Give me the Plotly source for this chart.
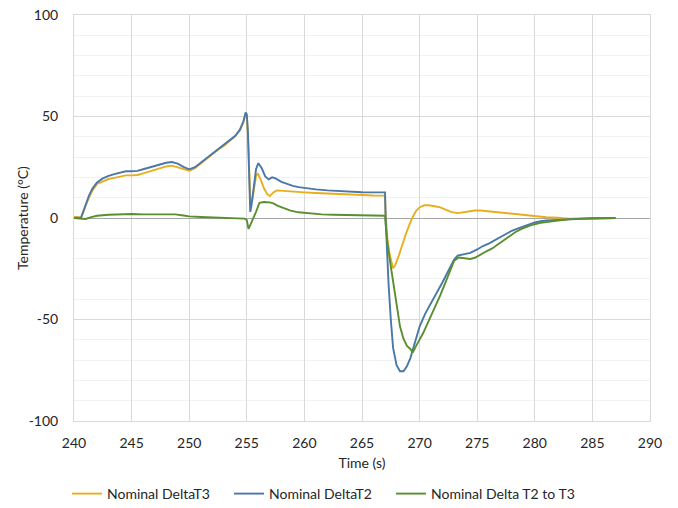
import plotly.graph_objects as go

# Nominal DeltaT3 (yellow)
t3_time = [240.0, 240.6, 240.8, 241.0, 241.3, 241.6, 242.0, 242.5, 243.0, 243.5, 244.0, 244.5, 245.0, 245.5,
           246.0, 246.5, 247.0, 247.5, 248.0, 248.5, 249.0, 249.5, 250.0, 250.5, 251.0, 251.5, 252.0, 252.5,
           253.0, 253.5, 254.0, 254.4, 254.7, 254.9, 255.0, 255.1, 255.2, 255.3, 255.45, 255.6, 255.8, 255.95,
           256.2, 256.5, 256.8, 257.0, 257.3, 257.6, 258.0, 259, 260, 261, 262, 263, 264, 265, 266, 267.0,
           267.05, 267.2, 267.4, 267.7, 267.9, 268.2, 268.5, 268.8, 269.1, 269.4, 269.7, 270.0, 270.4, 270.8,
           271.3, 271.8, 272.3, 272.8, 273.3, 273.8, 274.3, 274.8, 275.3, 275.8, 276.3, 276.8, 277.5, 278.0,
           278.5, 279, 280, 281, 282, 283, 284, 285, 286, 287]
t3_vals = [0.5, 0.3, 2.5, 6, 10, 13.5, 16.8, 18.2, 19.2, 19.8, 20.5, 21.0, 21.0, 21.2,
           22.0, 22.8, 23.6, 24.5, 25.4, 25.8, 25.0, 24.0, 23.3, 24.5, 26.8, 29.2, 31.5, 33.6,
           35.5, 37.8, 40.3, 43.2, 47, 51.5, 50.5, 41, 22, 9, 8, 14, 20.5, 22,
           19, 14.5, 11.5, 10.8, 12.6, 13.6, 13.4, 13.0, 12.6, 12.3, 12.0, 11.8, 11.6, 11.3, 11.1, 11.0,
           2, -10, -18, -24.8, -23, -18.5, -13, -8, -3.5, 0.5, 3.5, 5.2, 6.3, 6.3,
           5.8, 5.2, 4.0, 2.9, 2.4, 2.8, 3.3, 3.7, 3.7, 3.4, 3.1, 2.6, 2.3, 1.9,
           1.6, 1.3, 0.8, 0.4, 0.1, -0.3, -0.2, 0, -0.2, 0]

# Nominal DeltaT2 (blue)
t2_time = [240.0, 240.3, 240.6, 240.8, 241.0, 241.3, 241.6, 242.0, 242.5, 243.0, 243.5, 244.0, 244.5, 245.0,
           245.5, 246.0, 246.5, 247.0, 247.5, 248.0, 248.5, 249.0, 249.5, 250.0, 250.5, 251.0, 251.5, 252.0,
           252.5, 253.0, 253.5, 254.0, 254.4, 254.7, 254.9, 255.0, 255.1, 255.2, 255.3, 255.4, 255.6, 255.8,
           256.0, 256.3, 256.6, 256.9, 257.2, 257.5, 258.0, 258.5, 259.0, 259.5, 260.0, 261, 262, 263, 264,
           265, 266, 267.0, 267.05, 267.15, 267.3, 267.5, 267.7, 268.0, 268.3, 268.6, 268.9, 269.2, 269.5,
           269.8, 270.0, 270.5, 271.0, 271.5, 272.0, 272.5, 273.0, 273.3, 273.8, 274.4, 275.0, 275.5, 276.0,
           276.5, 277.0, 277.5, 278.0, 278.5, 279.0, 279.5, 280.0, 280.5, 281, 282, 283, 284, 285, 286, 287]
t2_vals = [0, 0.2, 0, 3, 7, 11, 14.5, 17.5, 19.5, 20.8, 21.6, 22.3, 23.0, 23.0,
           23.2, 24.0, 24.8, 25.5, 26.3, 27.2, 27.6, 26.8, 25.2, 24.0, 25.0, 27.2, 29.5, 31.8,
           33.8, 35.8, 38.0, 40.5, 43.5, 47.5, 52.0, 51.0, 42, 20, 3.0, 6, 16, 24,
           27.0, 24.5, 20.5, 19.0, 20.0, 19.5, 17.8, 16.6, 15.8, 15.2, 14.8, 14.1, 13.6, 13.2, 12.9,
           12.7, 12.6, 12.6, 0, -15, -32, -50, -64, -72.5, -75.5, -75.5, -73, -69, -63,
           -57, -53.5, -47, -42, -37, -31.5, -26, -20.5, -18.5, -17.8, -17.2, -15.5, -13.8, -12.6,
           -11, -9.3, -7.8, -6.3, -5.2, -4.1, -3.0, -2.2, -1.6, -1.2, -0.9, -0.5, -0.3, -0.1, -0.2, 0]

# Nominal Delta T2 to T3 (green)
d23_time = [240, 240.5, 241, 241.5, 242, 243, 244, 245, 246, 247, 248, 248.8, 249.5, 250, 251, 252, 253,
            254, 254.8, 255.0, 255.15, 255.3, 255.5, 255.8, 256.1, 256.5, 257.0, 257.3, 257.7, 258.2, 258.8,
            259.5, 260.5, 261.5, 262.5, 263.5, 264.5, 265.5, 267.0, 267.05, 267.2, 267.45, 267.7, 268.0,
            268.3, 268.6, 268.9, 269.2, 269.4, 269.7, 270.0, 270.3, 270.8, 271.3, 271.8, 272.3, 272.7, 273.0,
            273.4, 273.9, 274.4, 274.8, 275.3, 275.8, 276.3, 276.8, 277.3, 277.8, 278.3, 278.8, 279.3, 279.8,
            280.5, 281, 282, 283, 284, 285, 286, 287]
d23_vals = [0, -0.3, -0.5, 0.4, 1.1, 1.6, 1.9, 2.0, 1.8, 1.7, 1.9, 1.8, 1.2, 0.8, 0.5, 0.3, 0.2,
            0, -0.3, -1, -5.4, -3.5, -1, 3, 7.5, 7.9, 7.7, 7.2, 6, 4.8, 3.6,
            2.8, 2.2, 1.8, 1.6, 1.5, 1.3, 1.2, 1.1, -3, -12, -22, -31, -43,
            -53.5, -59.5, -63, -64.5, -66.3, -63, -60, -56.8, -50.5, -44.5, -38, -31, -25, -21,
            -19.5, -19.8, -20.2, -19.6, -17.8, -16.4, -15, -13, -11, -8.8, -7, -5.5, -4.3, -3.3,
            -2.4, -1.9, -1.2, -0.7, -0.4, -0.3, -0.2, 0]

# Tick labels
y_tickvals = [-100, -50, 0, 50, 100]
y_ticktext = ["-100", "-50", "0", "50", "100"]

series_names = ["Nominal DeltaT3", "Nominal DeltaT2", "Nominal Delta T2 to T3"]
colors = ["#E8AE1E", "#4A78A8", "#5A8F2F"]
legend_ids = ["legend", "legend2", "legend3"]
legend_left_px = [67, 229, 391]
y_title = "Temperature (°C)"

fig = go.Figure()
for name, xs, ys, c, lg in zip(series_names, [t3_time, t2_time, d23_time],
                               [t3_vals, t2_vals, d23_vals], colors, legend_ids):
    fig.add_trace(go.Scatter(x=xs, y=ys, mode="lines", name=name, legend=lg,
                             line=dict(color=c, width=1.9)))

font = dict(family="Lato, Open Sans, sans-serif", size=14, color="#262626")

W, H = 678, 508
L, R, T, B = 74, 28, 15, 87
legend_layout = {}
for lg, lx in zip(legend_ids, legend_left_px):
    legend_layout[lg] = dict(orientation="h", x=lx / W, xanchor="left", xref="container",
                             y=14 / H, yanchor="middle", yref="container",
                             font=font, itemwidth=30, bgcolor="rgba(0,0,0,0)")

fig.update_layout(
    width=W, height=H,
    margin=dict(l=L, r=R, t=T, b=B, autoexpand=False),
    paper_bgcolor="white", plot_bgcolor="white",
    font=font,
    showlegend=True,
    xaxis=dict(range=[240, 290], dtick=5, tick0=240, showgrid=True, gridcolor="#D9D9D9",
               gridwidth=1, zeroline=False, showline=True, linecolor="#D9D9D9", mirror=True,
               ticks="", ticklabelstandoff=9, automargin=False,
               title=dict(text="Time (s)", standoff=8, font=font)),
    yaxis=dict(range=[-100, 100], tickmode="array", tickvals=y_tickvals, ticktext=y_ticktext,
               showgrid=True, gridcolor="#D9D9D9",
               gridwidth=1, zeroline=True, zerolinecolor="#A6A6A6", zerolinewidth=1,
               showline=True, linecolor="#D9D9D9", mirror=True, ticks="", ticklabelstandoff=12,
               automargin=False, ticklabeloverflow="allow",
               minor=dict(tickmode="linear", tick0=-100, dtick=10, showgrid=True,
                          gridcolor="#F2F2F2", gridwidth=1)),
    annotations=[dict(text=y_title, textangle=-90, xref="paper", yref="paper",
                      x=(22 - L) / (W - L - R), y=0.5, xanchor="center", yanchor="middle",
                      showarrow=False, font=font)],
    **legend_layout,
)

fig.write_html("out.html", config={"displayModeBar": False},
               post_script="document.body.style.margin='0px';")
